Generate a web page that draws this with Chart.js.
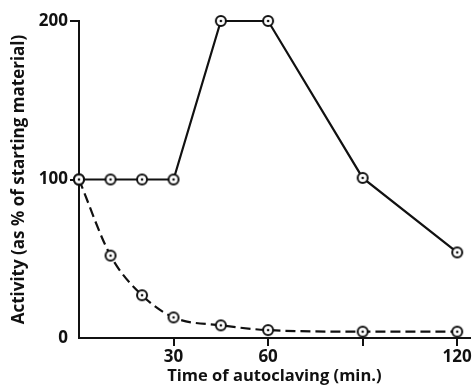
<!DOCTYPE html>
<html>
<head>
<meta charset="utf-8">
<script src="https://cdn.jsdelivr.net/npm/chart.js@4"></script>
<style>
  html, body { margin: 0; padding: 0; background: #fff; }
  #wrap { width: 476px; height: 386px; }
</style>
</head>
<body>
<div id="wrap"><canvas id="activityChart" width="476" height="386"></canvas></div>
<script>
// Data
const times = [0, 10, 20, 30, 45, 60, 90, 120];
const solidActivity = [100, 100, 100, 100, 200, 200, 101, 54];
const dashedActivity = [100, 52, 27, 13, 8, 5, 4, 4];
const xTicks = [30, 60, 90, 120];
const xTickLabels = ['30', '60', '', '120'];
const yTicks = [0, 100, 200];

// Ring with a dot in the middle, like the printed markers
function makeMarker() {
  const c = document.createElement('canvas');
  c.width = 14;
  c.height = 14;
  const g = c.getContext('2d');
  g.fillStyle = '#fff';
  g.strokeStyle = '#111';
  g.lineWidth = 2;
  g.beginPath();
  g.arc(7, 7, 5, 0, Math.PI * 2);
  g.fill();
  g.stroke();
  g.fillStyle = '#111';
  g.beginPath();
  g.arc(7, 7, 1.3, 0, Math.PI * 2);
  g.fill();
  return c;
}
const marker = makeMarker();

const toPoints = (vals) => vals.map((v, i) => ({ x: times[i], y: v }));

const fam = 'Open Sans';

const ctx = document.getElementById('activityChart').getContext('2d');
const chart = new Chart(ctx, {
  type: 'line',
  data: {
    datasets: [{
      label: 'solid',
      data: toPoints(solidActivity),
      borderColor: '#111',
      borderWidth: 2.2,
      tension: 0,
      pointStyle: marker,
      clip: false,
      fill: false
    }, {
      label: 'dashed',
      data: toPoints(dashedActivity),
      borderColor: '#111',
      borderWidth: 2.2,
      borderDash: [10, 5],
      cubicInterpolationMode: 'monotone',
      pointStyle: marker,
      clip: false,
      fill: false
    }]
  },
  options: {
    responsive: false,
    animation: false,
    layout: { padding: { top: 21, right: 6, left: 0, bottom: 0 } },
    plugins: {
      legend: { display: false },
      tooltip: { enabled: false }
    },
    scales: {
      x: {
        type: 'linear',
        min: 0,
        max: 124,
        afterBuildTicks: (scale) => { scale.ticks = xTicks.map(v => ({ value: v })); },
        afterFit: (scale) => { scale.height = 48; },
        ticks: {
          color: '#111',
          font: { family: fam, weight: 'bold', size: 17 },
          padding: 1,
          maxRotation: 0,
          callback: (value) => xTickLabels[xTicks.indexOf(value)]
        },
        grid: { drawOnChartArea: false, color: '#111', lineWidth: 2, tickLength: 8 },
        border: { display: true, color: '#111', width: 2 },
        title: {
          display: true,
          text: 'Time of autoclaving (min.)',
          color: '#111',
          font: { family: fam, weight: 'bold', size: 16.5 },
          padding: { top: 0, bottom: 0 }
        }
      },
      y: {
        min: 0,
        max: 200,
        afterBuildTicks: (scale) => { scale.ticks = yTicks.map(v => ({ value: v })); },
        afterFit: (scale) => { scale.width = 79; },
        ticks: { color: '#111', font: { family: fam, weight: 'bold', size: 17 }, padding: 2 },
        grid: {
          drawOnChartArea: false,
          lineWidth: 2,
          tickLength: 9,
          color: (c) => (c.tick && c.tick.value === 0 ? 'rgba(0,0,0,0)' : '#111')
        },
        border: { display: true, color: '#111', width: 2 },
        title: {
          display: true,
          text: 'Activity (as % of starting material)',
          color: '#111',
          font: { family: fam, weight: 'bold', size: 17 },
          padding: { top: 9, bottom: 0 }
        }
      }
    }
  }
});
</script>
</body>
</html>
